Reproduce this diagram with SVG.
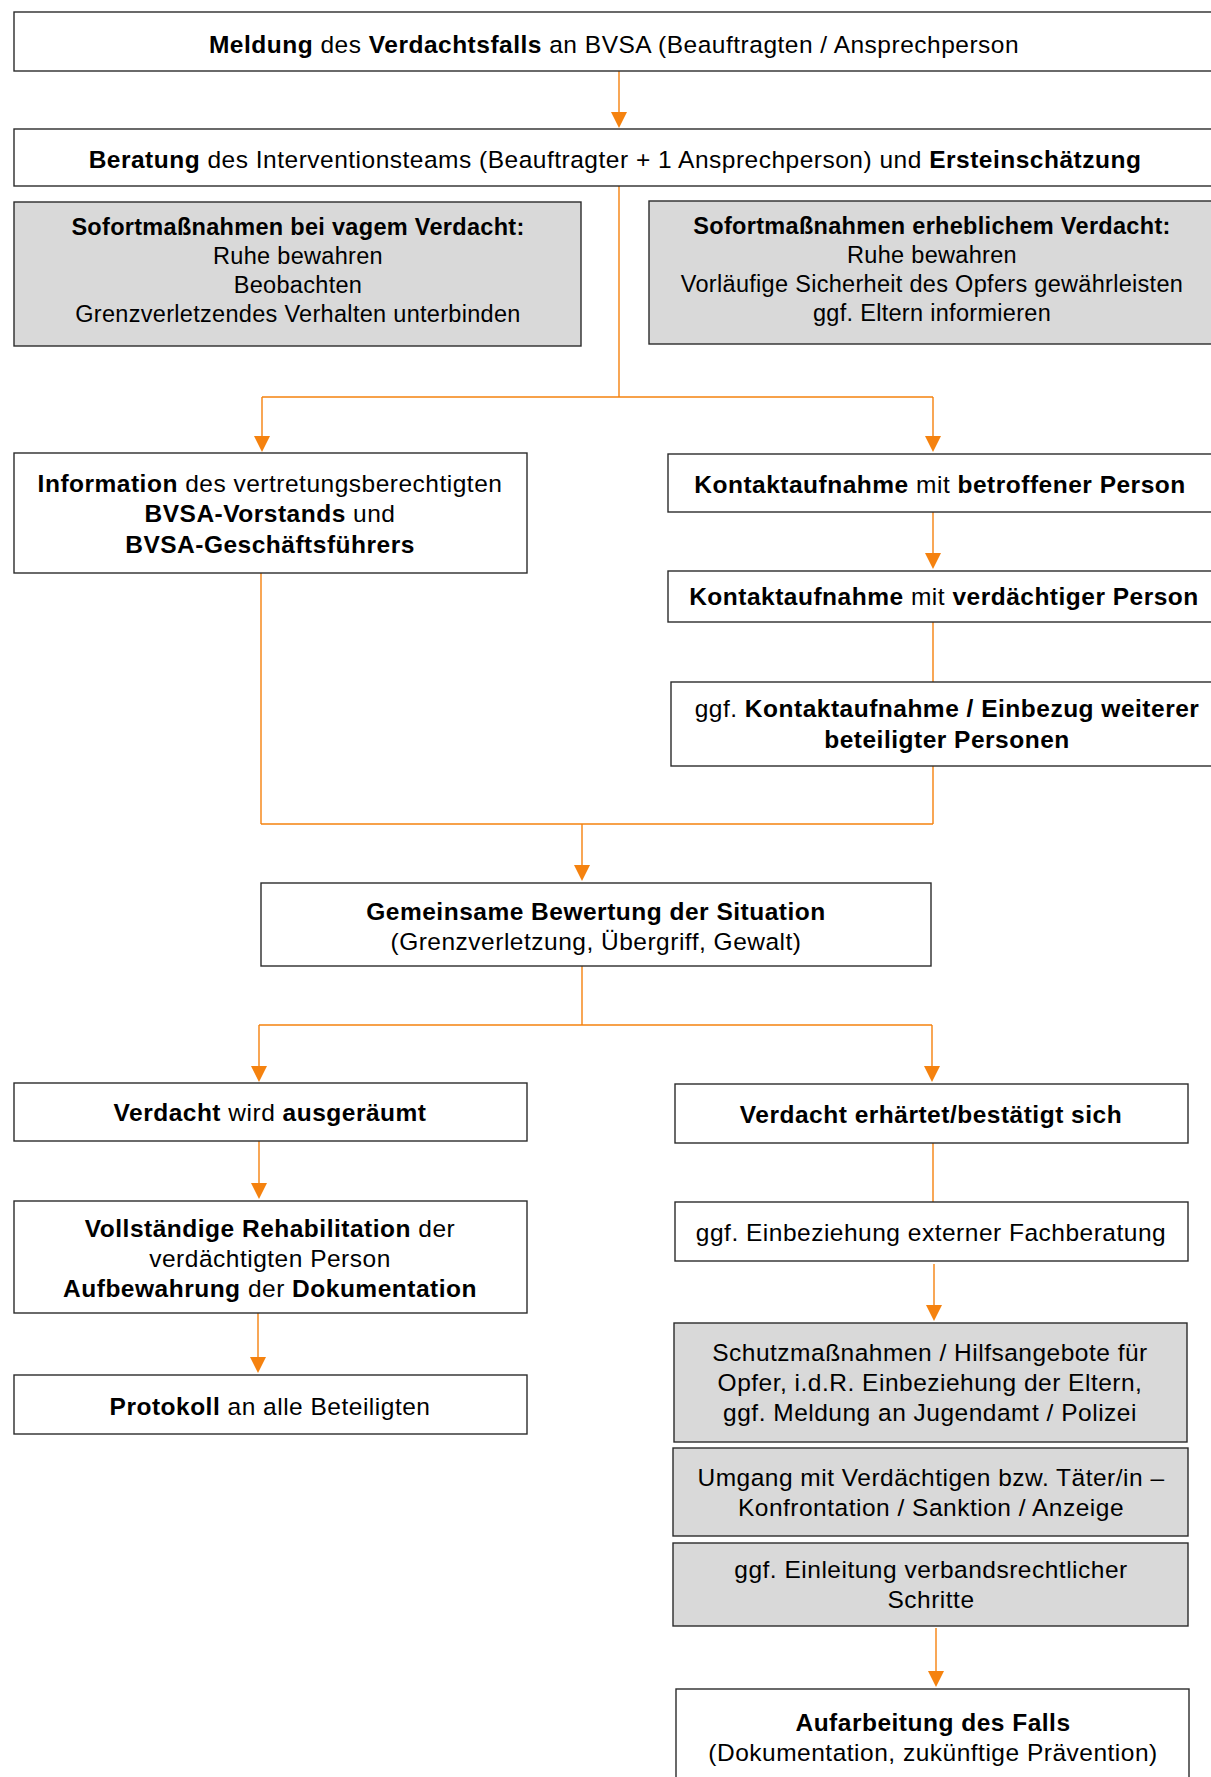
<svg xmlns="http://www.w3.org/2000/svg" width="1211" height="1777" viewBox="0 0 1211 1777">
<style>
  .box { fill: #ffffff; stroke: #2b2b2b; stroke-width: 1.4; }
  .grey { fill: #d9d9d9; stroke: #2b2b2b; stroke-width: 1.4; }
  .t { font-family: "Liberation Sans", Arial, sans-serif; font-size: 24.5px; letter-spacing: 0.5px; fill: #000; text-anchor: middle; }
  .s { font-size: 23.5px; letter-spacing: 0.3px; }
  .b { font-weight: bold; }
  .c { fill: none; stroke: #f5820f; stroke-width: 1.4; }
  .h { fill: #f5820f; }
</style>
<rect width="1211" height="1777" fill="#ffffff"/>

<g id="connectors">
  <path class="c" d="M619,71 V112"/>
  <path class="h" d="M611,112 L627,112 L619,128 Z"/>
  <path class="c" d="M619,186 V397 M262,397 H933 M262,397 V436 M933,397 V436"/>
  <path class="h" d="M254,436 L270,436 L262,452 Z M925,436 L941,436 L933,452 Z"/>
  <path class="c" d="M933,512 V553"/>
  <path class="h" d="M925,553 L941,553 L933,569 Z"/>
  <path class="c" d="M933,622 V682 M933,766 V824 M261,573 V824 M261,824 H933 M582,824 V865"/>
  <path class="h" d="M574,865 L590,865 L582,881 Z"/>
  <path class="c" d="M582,966 V1025 M259,1025 H932 M259,1025 V1066 M932,1025 V1066"/>
  <path class="h" d="M251,1066 L267,1066 L259,1082 Z M924,1066 L940,1066 L932,1082 Z"/>
  <path class="c" d="M259,1141 V1183"/>
  <path class="h" d="M251,1183 L267,1183 L259,1199 Z"/>
  <path class="c" d="M258,1313 V1357"/>
  <path class="h" d="M250,1357 L266,1357 L258,1373 Z"/>
  <path class="c" d="M933,1143 V1202"/>
  <path class="c" d="M934,1264 V1305"/>
  <path class="h" d="M926,1305 L942,1305 L934,1321 Z"/>
  <path class="c" d="M936,1628 V1671"/>
  <path class="h" d="M928,1671 L944,1671 L936,1687 Z"/>
</g>

<g id="n1">
  <rect class="box" x="14" y="12" width="1201" height="59"/>
  <text class="t" x="614" y="53"><tspan class="b">Meldung</tspan> des <tspan class="b">Verdachtsfalls</tspan> an BVSA (Beauftragten / Ansprechperson</text>
</g>
<g id="n2">
  <rect class="box" x="14" y="129" width="1201" height="57"/>
  <text class="t" x="615" y="168"><tspan class="b">Beratung</tspan> des Interventionsteams (Beauftragter + 1 Ansprechperson) und <tspan class="b">Ersteinschätzung</tspan></text>
</g>
<g id="n3">
  <rect class="grey" x="14" y="202" width="567" height="144"/>
  <text class="t s" x="298" y="235"><tspan class="b">Sofortmaßnahmen bei vagem Verdacht:</tspan></text>
  <text class="t s" x="298" y="264">Ruhe bewahren</text>
  <text class="t s" x="298" y="293">Beobachten</text>
  <text class="t s" x="298" y="322">Grenzverletzendes Verhalten unterbinden</text>
</g>
<g id="n4">
  <rect class="grey" x="649" y="201" width="570" height="143"/>
  <text class="t s" x="932" y="234"><tspan class="b">Sofortmaßnahmen erheblichem Verdacht:</tspan></text>
  <text class="t s" x="932" y="263">Ruhe bewahren</text>
  <text class="t s" x="932" y="292">Vorläufige Sicherheit des Opfers gewährleisten</text>
  <text class="t s" x="932" y="321">ggf. Eltern informieren</text>
</g>
<g id="n5">
  <rect class="box" x="14" y="453" width="513" height="120"/>
  <text class="t" x="270" y="492"><tspan class="b">Information</tspan> des vertretungsberechtigten</text>
  <text class="t" x="270" y="522"><tspan class="b">BVSA-Vorstands</tspan> und</text>
  <text class="t" x="270" y="553"><tspan class="b">BVSA-Geschäftsführers</tspan></text>
</g>
<g id="n6">
  <rect class="box" x="668" y="454" width="550" height="58"/>
  <text class="t" x="940" y="493"><tspan class="b">Kontaktaufnahme</tspan> mit <tspan class="b">betroffener Person</tspan></text>
</g>
<g id="n7">
  <rect class="box" x="668" y="571" width="550" height="51"/>
  <text class="t" x="944" y="605"><tspan class="b">Kontaktaufnahme</tspan> mit <tspan class="b">verdächtiger Person</tspan></text>
</g>
<g id="n8">
  <rect class="box" x="671" y="682" width="547" height="84"/>
  <text class="t" x="947" y="717">ggf. <tspan class="b">Kontaktaufnahme / Einbezug weiterer</tspan></text>
  <text class="t" x="947" y="748"><tspan class="b">beteiligter Personen</tspan></text>
</g>
<g id="n9">
  <rect class="box" x="261" y="883" width="670" height="83"/>
  <text class="t" x="596" y="920"><tspan class="b">Gemeinsame Bewertung der Situation</tspan></text>
  <text class="t" x="596" y="950">(Grenzverletzung, Übergriff, Gewalt)</text>
</g>
<g id="n10">
  <rect class="box" x="14" y="1083" width="513" height="58"/>
  <text class="t" x="270" y="1121"><tspan class="b">Verdacht</tspan> wird <tspan class="b">ausgeräumt</tspan></text>
</g>
<g id="n11">
  <rect class="box" x="675" y="1084" width="513" height="59"/>
  <text class="t" x="931" y="1123"><tspan class="b">Verdacht erhärtet/bestätigt sich</tspan></text>
</g>
<g id="n12">
  <rect class="box" x="14" y="1201" width="513" height="112"/>
  <text class="t" x="270" y="1237"><tspan class="b">Vollständige Rehabilitation</tspan> der</text>
  <text class="t" x="270" y="1267">verdächtigten Person</text>
  <text class="t" x="270" y="1297"><tspan class="b">Aufbewahrung</tspan> der <tspan class="b">Dokumentation</tspan></text>
</g>
<g id="n13">
  <rect class="box" x="14" y="1375" width="513" height="59"/>
  <text class="t" x="270" y="1415"><tspan class="b">Protokoll</tspan> an alle Beteiligten</text>
</g>
<g id="n14">
  <rect class="box" x="675" y="1202" width="513" height="59"/>
  <text class="t" x="931" y="1241">ggf. Einbeziehung externer Fachberatung</text>
</g>
<g id="n15">
  <rect class="grey" x="674" y="1323" width="513" height="119"/>
  <text class="t" x="930" y="1361">Schutzmaßnahmen / Hilfsangebote für</text>
  <text class="t" x="930" y="1391">Opfer, i.d.R. Einbeziehung der Eltern,</text>
  <text class="t" x="930" y="1421">ggf. Meldung an Jugendamt / Polizei</text>
</g>
<g id="n16">
  <rect class="grey" x="673" y="1448" width="515" height="88"/>
  <text class="t" x="931" y="1486">Umgang mit Verdächtigen bzw. Täter/in –</text>
  <text class="t" x="931" y="1516">Konfrontation / Sanktion / Anzeige</text>
</g>
<g id="n17">
  <rect class="grey" x="673" y="1543" width="515" height="83"/>
  <text class="t" x="931" y="1578">ggf. Einleitung verbandsrechtlicher</text>
  <text class="t" x="931" y="1608">Schritte</text>
</g>
<g id="n18">
  <rect class="box" x="676" y="1689" width="513" height="110"/>
  <text class="t" x="933" y="1731"><tspan class="b">Aufarbeitung des Falls</tspan></text>
  <text class="t" x="933" y="1761">(Dokumentation, zukünftige Prävention)</text>
</g>
</svg>
